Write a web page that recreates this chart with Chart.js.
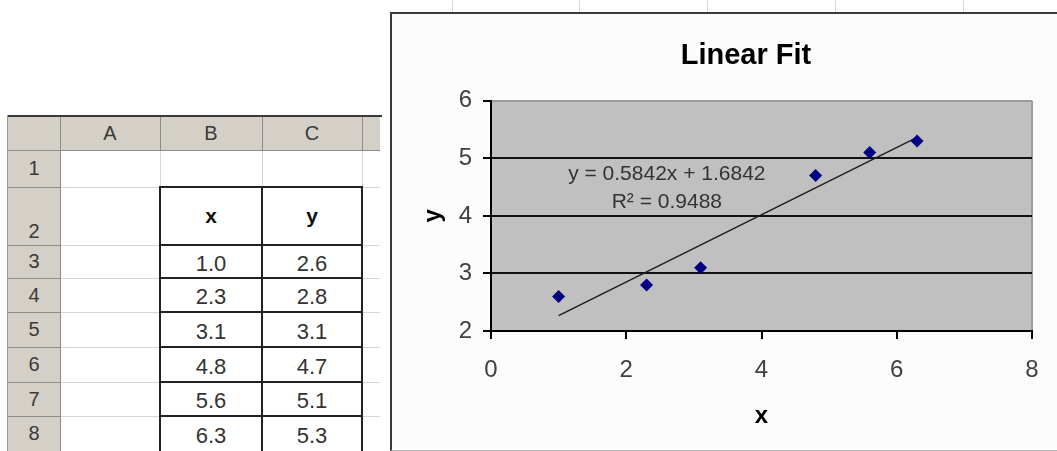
<!DOCTYPE html>
<html>
<head>
<meta charset="utf-8">
<script src="https://cdn.jsdelivr.net/npm/chart.js@4.4.1/dist/chart.umd.min.js"></script>
<style>
  html, body { margin:0; padding:0; background:#ffffff; width:1057px; height:451px; overflow:hidden; position:relative;
    font-family:"Liberation Sans", Arial, sans-serif; }
  .ln { position:absolute; }
  .cell { position:absolute; display:flex; align-items:center; justify-content:center; color:#333; box-sizing:border-box; }
  #chartBox { position:absolute; left:390px; top:12px; width:720px; height:436px; background:#fcfcfc;
    border-left:2px solid #3a3a3a; border-top:2px solid #3a3a3a; border-bottom:1px solid #b4b4b4; }
  #chart { position:absolute; left:0; top:0; }
</style>
</head>
<body>
<div id="sheet"></div>
<div id="chartBox"><canvas id="chart" width="708" height="435"></canvas></div>
<script>
// ---- data ----
const columnLetters = ['A', 'B', 'C'];
const rowNumbers = ['1', '2', '3', '4', '5', '6', '7', '8'];
const headerX = 'x';
const headerY = 'y';
const xValues = [1.0, 2.3, 3.1, 4.8, 5.6, 6.3];
const yValues = [2.6, 2.8, 3.1, 4.7, 5.1, 5.3];
const xTicks = [0, 2, 4, 6, 8];
const yTicks = [2, 3, 4, 5, 6];
const trendSlope = 0.5842;
const trendIntercept = 1.6842;
const rSquared = 0.9488;
const chartTitle = 'Linear Fit';

// ---- spreadsheet (HTML) ----
const sheet = document.getElementById('sheet');
const colEdges = [8, 60, 160, 262, 362, 380];
const rowEdges = [115, 150, 187, 245, 278, 312, 347, 382, 416, 451];
function box(l, t, w, h, bg) {
  const d = document.createElement('div');
  d.className = 'ln';
  d.style.left = l + 'px'; d.style.top = t + 'px';
  d.style.width = w + 'px'; d.style.height = h + 'px';
  d.style.background = bg;
  sheet.appendChild(d);
  return d;
}
function text(l, t, w, h, s, opts) {
  const d = document.createElement('div');
  d.className = 'cell';
  d.style.left = l + 'px'; d.style.top = t + 'px';
  d.style.width = w + 'px'; d.style.height = h + 'px';
  d.style.fontSize = (opts.size || 20) + 'px';
  if (opts.bold) d.style.fontWeight = 'bold';
  if (opts.align) d.style.alignItems = opts.align;
  if (opts.pad) d.style.paddingBottom = opts.pad + 'px';
  if (opts.color) d.style.color = opts.color;
  d.textContent = s;
  sheet.appendChild(d);
}
const L = colEdges[0], R = colEdges[colEdges.length - 1];
// header backgrounds
box(L, rowEdges[0], R - L, rowEdges[1] - rowEdges[0], '#d4d0c8');
box(L, rowEdges[1], colEdges[1] - L, rowEdges[rowEdges.length - 1] - rowEdges[1], '#d4d0c8');
// light body grid
for (let i = 2; i < colEdges.length - 1; i++) box(colEdges[i], rowEdges[1], 1, 451 - rowEdges[1], '#d6d6d6');
for (let j = 2; j < rowEdges.length - 1; j++) box(colEdges[1], rowEdges[j], R - colEdges[1], 1, '#d6d6d6');
// header separators
for (let i = 1; i < colEdges.length - 1; i++) box(colEdges[i], rowEdges[0], 1, rowEdges[1] - rowEdges[0], '#8c8c8c');
box(colEdges[1], rowEdges[1], 1, 451 - rowEdges[1], '#8c8c8c');
for (let j = 1; j < rowEdges.length - 1; j++) box(L, rowEdges[j], colEdges[1] - L, 1, '#8c8c8c');
box(L, rowEdges[1], R - L, 1, '#8c8c8c');
box(L, rowEdges[0], R - L + 2, 2, '#3a3a3a');
box(L - 1, rowEdges[0], 1, 451 - rowEdges[0], '#9a9a9a');
// data block borders (B2:C8)
for (let i = 2; i <= 4; i++) box(colEdges[i] - 1, rowEdges[2], 2, 451 - rowEdges[2], '#222');
for (let j = 2; j < rowEdges.length - 1; j++) box(colEdges[2] - 1, rowEdges[j] - 1, colEdges[4] - colEdges[2] + 2, 2, '#222');
// header letters
columnLetters.forEach((c, i) => text(colEdges[i + 1], rowEdges[0] + 1, colEdges[i + 2] - colEdges[i + 1], rowEdges[1] - rowEdges[0], c, {size: 20, color:'#3a3a3a'}));
// row numbers
rowNumbers.forEach((r, j) => {
  const tall = (rowEdges[j + 2] - rowEdges[j + 1]) > 45;
  text(L, rowEdges[j + 1], colEdges[1] - L, rowEdges[j + 2] - rowEdges[j + 1], r,
       tall ? {size: 20, align: 'flex-end', pad: 2, color:'#3a3a3a'} : {size: 20, color:'#3a3a3a'});
});
// x / y headers (row 2)
text(colEdges[2], rowEdges[2], colEdges[3] - colEdges[2], rowEdges[3] - rowEdges[2], headerX, {size: 21, bold: true, color:'#111'});
text(colEdges[3], rowEdges[2], colEdges[4] - colEdges[3], rowEdges[3] - rowEdges[2], headerY, {size: 21, bold: true, color:'#111'});
// values
xValues.forEach((v, k) => {
  const t = rowEdges[k + 3], h = rowEdges[k + 4] - rowEdges[k + 3];
  text(colEdges[2], t + 2, colEdges[3] - colEdges[2], h, v.toFixed(1), {size: 22});
  text(colEdges[3], t + 2, colEdges[4] - colEdges[3], h, yValues[k].toFixed(1), {size: 22});
});
// faint spreadsheet gridline stubs visible above the chart
[452, 579, 707, 835, 963].forEach(x => box(x, 0, 1, 12, '#d8d8d8'));

// ---- chart ----
const FONT = '"Liberation Sans", Arial, sans-serif';
const xMin = Math.min(...xValues), xMax = Math.max(...xValues);
const trendPoints = [
  {x: xMin, y: trendSlope * xMin + trendIntercept},
  {x: xMax, y: trendSlope * xMax + trendIntercept}
];
const equationText = 'y = ' + trendSlope.toFixed(4) + 'x + ' + trendIntercept.toFixed(4);
const r2Text = 'R\u00B2 = ' + rSquared.toFixed(4);

const plotBackground = {
  id: 'plotBackground',
  beforeDraw(chart) {
    const {ctx, chartArea: a} = chart;
    ctx.save();
    ctx.fillStyle = '#c0c0c0';
    ctx.fillRect(a.left, a.top, a.right - a.left, a.bottom - a.top);
    ctx.restore();
  }
};
const trendLabel = {
  id: 'trendLabel',
  afterDatasetsDraw(chart) {
    const {ctx, scales} = chart;
    const cx = scales.x.getPixelForValue(2.6);
    ctx.save();
    ctx.font = '21px ' + FONT;
    ctx.fillStyle = '#333333';
    ctx.textAlign = 'center';
    ctx.textBaseline = 'middle';
    ctx.fillText(equationText, cx, scales.y.getPixelForValue(4.72));
    ctx.fillText(r2Text, cx, scales.y.getPixelForValue(4.23));
    ctx.restore();
  }
};

new Chart(document.getElementById('chart'), {
  type: 'scatter',
  data: {
    datasets: [
      {
        type: 'scatter',
        label: 'y',
        data: xValues.map((x, i) => ({x: x, y: yValues[i]})),
        pointStyle: 'rectRot',
        pointRadius: 6.5,
        backgroundColor: '#000080',
        borderColor: '#000080',
        borderWidth: 0,
        order: 1
      },
      {
        type: 'line',
        label: 'Linear (y)',
        data: trendPoints,
        borderColor: '#1e1e1e',
        borderWidth: 1.5,
        pointRadius: 0,
        fill: false,
        order: 2
      }
    ]
  },
  options: {
    responsive: false,
    devicePixelRatio: 1,
    animation: false,
    layout: { padding: 0 },
    plugins: {
      legend: { display: false },
      tooltip: { enabled: false },
      title: {
        display: true,
        text: chartTitle,
        color: '#000',
        font: { family: FONT, size: 29, weight: 'bold' },
        padding: { top: 25, bottom: 27 }
      }
    },
    scales: {
      x: {
        type: 'linear',
        position: 'bottom',
        min: xTicks[0], max: xTicks[xTicks.length - 1],
        afterBuildTicks: s => { s.ticks = xTicks.map(v => ({value: v})); },
        ticks: { color: '#404040', font: { family: FONT, size: 24 }, padding: 17, maxRotation: 0 },
        grid: {
          drawOnChartArea: true,
          color: c => (c.tick && c.tick.value === xTicks[xTicks.length - 1]) ? '#9c9c9c' : 'rgba(0,0,0,0)',
          tickColor: '#000', tickLength: 8, lineWidth: 2
        },
        border: { display: true, color: '#000', width: 2 },
        title: { display: true, text: 'x', color: '#000', font: { family: FONT, size: 24, weight: 'bold' }, padding: { top: 0, bottom: 18 } },
        afterFit: s => { s.height = 118; }
      },
      y: {
        type: 'linear',
        position: 'left',
        min: yTicks[0], max: yTicks[yTicks.length - 1],
        afterBuildTicks: s => { s.ticks = yTicks.map(v => ({value: v})); },
        ticks: { color: '#404040', font: { family: FONT, size: 24 }, padding: 11 },
        grid: {
          color: c => (c.tick && c.tick.value === yTicks[yTicks.length - 1]) ? '#9c9c9c' : '#111',
          tickColor: '#000', tickLength: 8, lineWidth: 2
        },
        border: { display: true, color: '#000', width: 2 },
        title: { display: true, text: 'y', color: '#000', font: { family: FONT, size: 24, weight: 'bold' }, padding: { top: 27, bottom: 0 } },
        afterFit: s => { s.width = 99; }
      },
      yRight: {
        type: 'linear',
        position: 'right',
        display: true,
        ticks: { display: false },
        grid: { display: false, drawTicks: false },
        border: { display: false },
        afterFit: s => { s.width = 68; }
      }
    }
  },
  plugins: [plotBackground, trendLabel]
});
</script>
</body>
</html>
